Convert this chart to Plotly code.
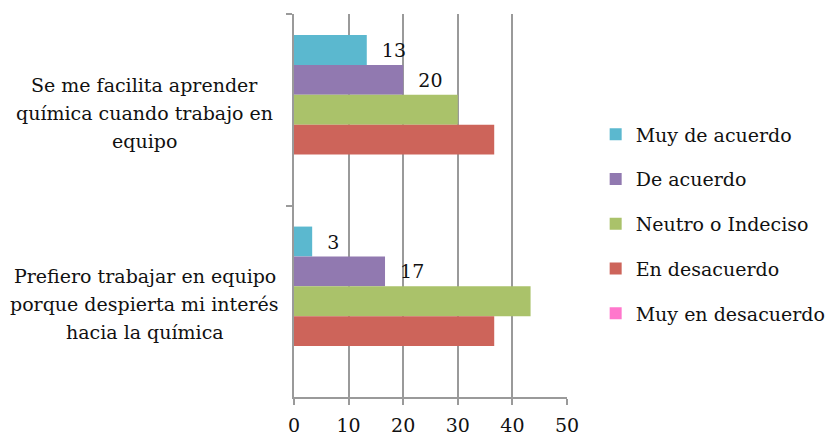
import plotly.graph_objects as go

categories = [
    "Se me facilita aprender<br>química cuando trabajo en<br>equipo",
    "Prefiero trabajar en equipo<br>porque despierta mi interés<br>hacia la química",
]
series_names = ["Muy de acuerdo", "De acuerdo", "Neutro o Indeciso", "En desacuerdo", "Muy en desacuerdo"]
muy_de_acuerdo = [13.33, 3.33]
de_acuerdo = [20.0, 16.67]
neutro = [30.0, 43.33]
en_desacuerdo = [36.67, 36.67]
muy_en_desacuerdo = [0, 0]
label_muy_de_acuerdo = ["13", "3"]
label_de_acuerdo = ["20", "17"]
x_ticks = [0, 10, 20, 30, 40, 50]

colors = {
    "Muy de acuerdo": "#5BB8CF",
    "De acuerdo": "#9179B0",
    "Neutro o Indeciso": "#AAC26A",
    "En desacuerdo": "#CD645A",
    "Muy en desacuerdo": "#FF77CC",
}
values = {
    "Muy de acuerdo": muy_de_acuerdo,
    "De acuerdo": de_acuerdo,
    "Neutro o Indeciso": neutro,
    "En desacuerdo": en_desacuerdo,
    "Muy en desacuerdo": muy_en_desacuerdo,
}
labels = {
    "Muy de acuerdo": label_muy_de_acuerdo,
    "De acuerdo": label_de_acuerdo,
}

FONT = "DejaVu Serif"
fig = go.Figure()
for name in series_names:
    t = labels.get(name)
    fig.add_trace(go.Bar(
        name=name,
        y=categories,
        x=values[name],
        orientation="h",
        marker=dict(color=colors[name], line=dict(width=0)),
        text=["\u00a0\u00a0" + s for s in t] if t else None,
        textposition="outside" if t else "none",
        textfont=dict(family=FONT, size=19, color="#111111"),
        cliponaxis=False,
        legendgroup=name,
        hoverinfo="skip",
    ))

for cat in categories:
    lines = cat.split("<br>")
    n = len(lines)
    for i, line in enumerate(lines):
        fig.add_annotation(
            xref="paper", yref="y", x=-0.546, y=cat,
            text=line, showarrow=False, xanchor="center", yanchor="middle",
            yshift=((n - 1) / 2 - i) * 28 - 3,
            font=dict(family=FONT, size=19, color="#111111"),
        )

fig.update_layout(
    width=825, height=437,
    margin=dict(l=294, r=258, t=14, b=40, autoexpand=False),
    paper_bgcolor="white", plot_bgcolor="white",
    barmode="group", bargap=0.22, bargroupgap=0,
    font=dict(family=FONT, size=19, color="#111111"),
    showlegend=True,
    legend=dict(
        x=1.105, xanchor="left", y=0.735, yanchor="top",
        traceorder="grouped", tracegroupgap=17,
        font=dict(family=FONT, size=19, color="#111111"),
        bgcolor="rgba(0,0,0,0)",
    ),
    xaxis=dict(
        range=[0, 50], tickvals=x_ticks, showgrid=True, gridcolor="#9a9a9a", gridwidth=1.5,
        showline=True, linecolor="#9a9a9a", linewidth=1.5,
        ticks="outside", ticklen=6, tickcolor="#9a9a9a", tickwidth=1.5,
        ticklabelstandoff=4,
        zeroline=False, tickfont=dict(family=FONT, size=19, color="#111111"),
    ),
    yaxis=dict(
        autorange="reversed",
        showticklabels=False, showline=True, linecolor="#9a9a9a", linewidth=1.5,
        ticks="outside", ticklen=6, tickcolor="#9a9a9a", tickwidth=1.5,
        tickson="boundaries", showgrid=False, zeroline=False,
    ),
)

fig.write_html("out.html")
